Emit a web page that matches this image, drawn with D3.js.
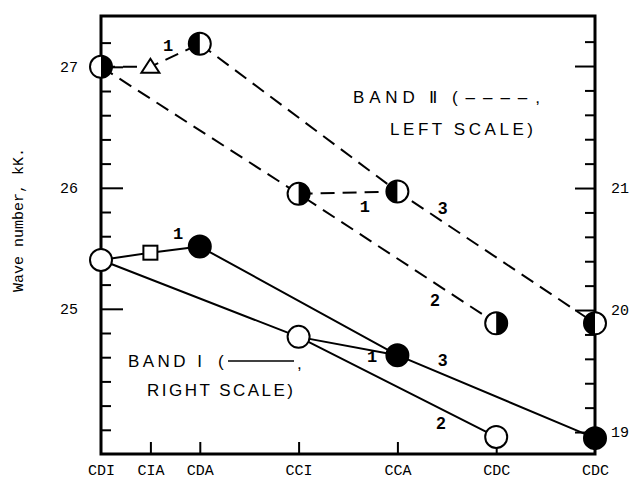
<!DOCTYPE html>
<html>
<head>
<meta charset="utf-8">
<script src="https://cdn.jsdelivr.net/npm/d3@7"></script>
<style>
  body { margin: 0; background: #fff; }
  .mono { font-family: "Liberation Mono", "DejaVu Sans Mono", monospace; }
</style>
</head>
<body>
<svg id="chart" width="639" height="484"></svg>
<script>
// categories along the bottom, with their spacing on the x scale
const categories = ["CDI", "CIA", "CDA", "CCI", "CCA", "CDC", "CDC"];
const catPositions = [0, 1, 2, 4, 6, 8, 10];

// Band II (dashed, left scale)
const band2Values = [27.0, 27.0, 27.19, 25.95, 25.97, 24.88, 24.88];
const band2Markers = ["halfRight", "triangle", "halfLeft", "halfRight", "halfLeft", "halfRight", "halfLeft"];

// Band I (solid, right scale)
const band1Values = [20.41, 20.47, 20.52, 19.78, 19.63, 18.96, 18.95];
const band1Markers = ["open", "square", "filled", "open", "filled", "open", "filled"];

// which points are joined (indices into the arrays above), same for both bands
const seriesPaths = [[0, 1, 2], [3, 4], [2, 4, 6], [0, 3, 5]];

// series numbers written next to the lines (x in category units, y in scale units)
const band2Labels = [
  { t: "1", x: 1.36, y: 27.165 }, { t: "1", x: 5.34, y: 25.84 },
  { t: "3", x: 6.92, y: 25.83 }, { t: "2", x: 6.76, y: 25.07 }
];
const band1Labels = [
  { t: "1", x: 1.56, y: 20.62 }, { t: "1", x: 5.49, y: 19.61 },
  { t: "3", x: 6.92, y: 19.59 }, { t: "2", x: 6.88, y: 19.07 }
];

// tick values
const leftTicks = d3.range(24.0, 27.21, 0.2);
const leftMajor = [25, 26, 27];
const rightTicks = d3.range(19.0, 22.21, 0.2);
const rightMajor = [19, 20, 21, 22];
const rightLabels = [19, 20, 21];
const bottomTicks = [1, 2, 4, 6, 8];

const svg = d3.select("#chart");
const plotLeft = 101, plotRight = 595, plotTop = 16, plotBottom = 454;

const x = d3.scaleLinear().domain([0, 10]).range([plotLeft, plotRight]);
const yL = d3.scaleLinear().domain([23.8, 27.42]).range([plotBottom, plotTop]);
const yR = d3.scaleLinear().domain([18.82, 22.41]).range([plotBottom, plotTop]);

const isMajor = (v, list) => list.some(m => Math.abs(m - v) < 0.01);

//Left axis ticks (pointing inward)
svg.append("g")
  .attr("transform", `translate(${plotLeft},0)`)
  .call(d3.axisRight(yL).tickValues(leftTicks.filter(v => !isMajor(v, leftMajor))).tickSize(10).tickFormat(""))
  .call(g => g.select(".domain").remove());
svg.append("g")
  .attr("transform", `translate(${plotLeft},0)`)
  .call(d3.axisRight(yL).tickValues(leftMajor).tickSize(22).tickFormat(""))
  .call(g => g.select(".domain").remove());
svg.append("g")
  .attr("transform", `translate(${plotLeft},0)`)
  .call(d3.axisLeft(yL).tickValues(leftMajor).tickSize(0).tickPadding(23).tickFormat(d3.format("d")))
  .call(g => g.select(".domain").remove());

//Right axis ticks
svg.append("g")
  .attr("transform", `translate(${plotRight},0)`)
  .call(d3.axisLeft(yR).tickValues(rightTicks.filter(v => !isMajor(v, rightMajor))).tickSize(10).tickFormat(""))
  .call(g => g.select(".domain").remove());
svg.append("g")
  .attr("transform", `translate(${plotRight},0)`)
  .call(d3.axisLeft(yR).tickValues(rightMajor).tickSize(20).tickFormat(""))
  .call(g => g.select(".domain").remove());
svg.append("g")
  .attr("transform", `translate(${plotRight},0)`)
  .call(d3.axisRight(yR).tickValues(rightLabels).tickSize(0).tickPadding(16).tickFormat(d3.format("d")))
  .call(g => g.select(".domain").remove());

//Bottom axis
svg.append("g")
  .attr("transform", `translate(0,${plotBottom})`)
  .call(d3.axisTop(x).tickValues(bottomTicks).tickSize(12).tickFormat(""))
  .call(g => g.select(".domain").remove());
svg.append("g")
  .attr("transform", `translate(0,${plotBottom})`)
  .call(d3.axisBottom(x).tickValues(catPositions).tickSize(0).tickPadding(10)
    .tickFormat((d, i) => categories[i]))
  .call(g => g.select(".domain").remove());

svg.selectAll(".tick line").attr("stroke", "#000").attr("stroke-width", 2);
svg.selectAll(".tick text").attr("fill", "#000").style("font-size", "15px")
  .style("font-family", "'Liberation Mono', 'DejaVu Sans Mono', monospace");

//Frame
svg.append("rect")
  .attr("x", plotLeft).attr("y", plotTop)
  .attr("width", plotRight - plotLeft).attr("height", plotBottom - plotTop)
  .attr("fill", "none").attr("stroke", "#000").attr("stroke-width", 3);

//Y title
svg.append("text")
  .attr("class", "mono")
  .attr("transform", "translate(23,220) rotate(-90)")
  .attr("text-anchor", "middle")
  .style("font-size", "15px")
  .text("Wave number, kK.");

//Lines
const drawLines = (values, yScale, dashed) => {
  const line = d3.line().x(i => x(catPositions[i])).y(i => yScale(values[i]));
  svg.append("g").selectAll("path")
    .data(seriesPaths)
    .enter()
    .append("path")
    .attr("d", line)
    .attr("fill", "none")
    .attr("stroke", "#000")
    .attr("stroke-width", 2)
    .attr("stroke-dasharray", dashed ? "14,8" : null);
};
drawLines(band2Values, yL, true);
drawLines(band1Values, yR, false);

//Markers
const r = 11;
const drawMarkers = (values, kinds, yScale) => {
  const g = svg.append("g");
  values.forEach((v, i) => {
    const cx = x(catPositions[i]), cy = yScale(v), kind = kinds[i];
    if (kind === "triangle") {
      g.append("path")
        .attr("d", `M${cx},${cy - 8}L${cx + 9},${cy + 6}L${cx - 9},${cy + 6}Z`)
        .attr("fill", "#fff").attr("stroke", "#000").attr("stroke-width", 2);
    } else if (kind === "square") {
      g.append("rect")
        .attr("x", cx - 7).attr("y", cy - 7).attr("width", 14).attr("height", 14)
        .attr("fill", "#fff").attr("stroke", "#000").attr("stroke-width", 2);
    } else {
      g.append("circle")
        .attr("cx", cx).attr("cy", cy).attr("r", r)
        .attr("fill", kind === "filled" ? "#000" : "#fff")
        .attr("stroke", "#000").attr("stroke-width", 2);
      if (kind === "halfRight" || kind === "halfLeft") {
        const sweep = kind === "halfRight" ? 1 : 0;
        g.append("path")
          .attr("d", `M${cx},${cy - r}A${r},${r} 0 0 ${sweep} ${cx},${cy + r}Z`)
          .attr("fill", "#000");
      }
    }
  });
};
drawMarkers(band2Values, band2Markers, yL);
drawMarkers(band1Values, band1Markers, yR);

//Series numbers
const drawNumbers = (labels, yScale) => {
  svg.append("g").selectAll("text")
    .data(labels)
    .enter()
    .append("text")
    .attr("x", d => x(d.x))
    .attr("y", d => yScale(d.y))
    .attr("text-anchor", "middle")
    .attr("dominant-baseline", "central")
    .style("font-family", d => d.t === "1" ? "'Liberation Mono', monospace" : "'Liberation Sans', Arial, sans-serif")
    .style("font-weight", "bold")
    .style("font-size", "17px")
    .text(d => d.t);
};
drawNumbers(band2Labels, yL);
drawNumbers(band1Labels, yR);

//Band captions: each piece stretched to the width it has in the figure
const caption = (pieces) => {
  const g = svg.append("g")
    .style("font-family", "'Liberation Sans', Arial, sans-serif")
    .style("font-size", "17px");
  pieces.forEach(d => {
    const t = g.append("text")
      .attr("x", d.x).attr("y", d.y)
      .text(d.s);
    if (d.w) t.attr("textLength", d.w).attr("lengthAdjust", "spacing");
  });
};
caption([
  { s: "BAND \u2161", x: 353, y: 103, w: 84 },
  { s: "(\u2013\u2013\u2013\u2013,", x: 452, y: 103, w: 88 },
  { s: "LEFT SCALE)", x: 390, y: 135, w: 143 }
]);
caption([
  { s: "BAND I", x: 128, y: 367, w: 74 },
  { s: "(", x: 218, y: 367 },
  { s: ",", x: 297, y: 369 },
  { s: "RIGHT SCALE)", x: 147, y: 396, w: 146 }
]);
// solid-line sample inside the Band I caption
svg.append("line")
  .attr("x1", 228).attr("x2", 294)
  .attr("y1", 361).attr("y2", 361)
  .attr("stroke", "#000").attr("stroke-width", 1.5);
</script>
</body>
</html>
